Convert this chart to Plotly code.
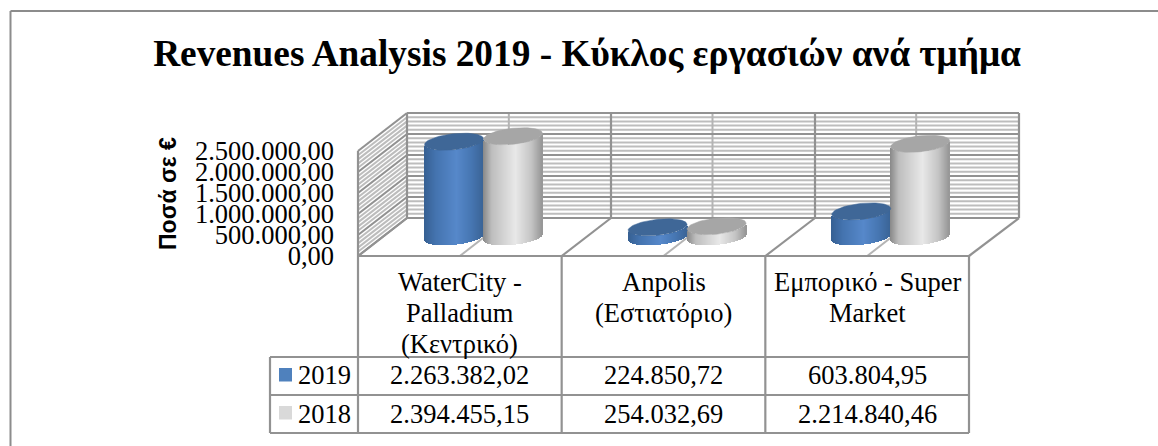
import math
import plotly.graph_objects as go

# ---------- data ----------
categories = ["WaterCity -<br>Palladium<br>(Κεντρικό)", "Anpolis<br>(Εστιατόριο)", "Εμπορικό - Super<br>Market"]
series_names = ["2019", "2018"]
values_2019 = [2263382.02, 224850.72, 603804.95]
values_2018 = [2394455.15, 254032.69, 2214840.46]
labels_2019 = ["2.263.382,02", "224.850,72", "603.804,95"]
labels_2018 = ["2.394.455,15", "254.032,69", "2.214.840,46"]
y_ticks = [0, 500000, 1000000, 1500000, 2000000, 2500000]
y_tick_labels = ["0,00", "500.000,00", "1.000.000,00", "1.500.000,00", "2.000.000,00", "2.500.000,00"]
y_minor = [100000 * i for i in range(26) if i % 5]

# ---------- layout geometry (pixels) ----------
W, H = 1158, 446
PX_PER_VAL = 105 / 2.5e6
VAL_PER_PX = 1 / PX_PER_VAL
BASE = 236.8      # pixel row of value 0 at the depth of the cylinders
FRONT, BACK = 256.0, 218.0
XF0, XF1, XB0, XB1 = 358.0, 969.0, 407.0, 1019.0
CAT_W = (XF1 - XF0) / 3
DX = XB0 - XF0
RX, RY, TILT = 29.5, 8.0, 0.1
FIRST_CENTERS = [454.0, 513.0]
CAT_STEP = 203.6
SERIF = "Liberation Serif"
GRID_DARK, GRID_LIGHT, GRID_MINOR = "#929292", "#B4B4B4", "#BDBDBD"


def Y(px):
    """Pixel row -> main axis value, where value 0 sits at BASE."""
    return (BASE - px) * VAL_PER_PX


def mix(stops, t):
    for (t0, c0), (t1, c1) in zip(stops, stops[1:]):
        if t <= t1:
            f = (t - t0) / (t1 - t0)
            return "rgb(%d,%d,%d)" % tuple(round(a + (b - a) * f) for a, b in zip(c0, c1))
    return "rgb(%d,%d,%d)" % stops[-1][1]


BLUE_STOPS = [(0, (54, 96, 146)), (0.2, (68, 115, 175)), (0.55, (86, 136, 202)), (0.8, (70, 118, 178)), (1, (58, 100, 150))]
GRAY_STOPS = [(0, (136, 136, 136)), (0.15, (190, 190, 190)), (0.55, (232, 232, 232)), (0.82, (196, 196, 196)), (1, (150, 150, 150))]
TOP_COLORS = ["#3F6797", "#A6A6A6"]
KEY_COLORS = ["#4F81BD", "#D9D9D9"]
STOPS = [BLUE_STOPS, GRAY_STOPS]

fig = go.Figure()

# ---------- cylinders: a run of one-pixel bars per value, plus a lid ----------
for s, (name, vals) in enumerate(zip(series_names, [values_2019, values_2018])):
    xs, ys, bases, cols = [], [], [], []
    lid_x, lid_y = [], []
    for c, v in enumerate(vals):
        cx = FIRST_CENTERS[s] + c * CAT_STEP
        n = int(2 * RX)
        for i in range(n):
            dx = -RX + (i + 0.5) * (2 * RX / n)
            lower = -TILT * dx + RY * math.sqrt(max(0, 1 - (dx / RX) ** 2))
            xs.append(cx + dx)
            ys.append(v)
            bases.append(-lower * VAL_PER_PX)
            cols.append(mix(STOPS[s], (i + 0.5) / n))
        for a in range(0, 73):
            th = a / 72 * 2 * math.pi
            dx = RX * math.cos(th)
            lid_x.append(cx + dx)
            lid_y.append(v + (TILT * dx + RY * math.sin(th)) * VAL_PER_PX)
        lid_x.append(None)
        lid_y.append(None)
    fig.add_trace(go.Bar(x=xs, y=ys, base=bases, width=1.15, name=name,
                         marker=dict(color=cols, line=dict(width=0)), showlegend=False))
    fig.add_trace(go.Scatter(x=lid_x, y=lid_y, mode="lines", fill="toself", fillcolor=TOP_COLORS[s],
                             line=dict(color=TOP_COLORS[s], width=0.5), showlegend=False, hoverinfo="skip"))

# ---------- walls, floor and table lines ----------
shapes = []


def seg(x0, y0, x1, y1, color=GRID_DARK, width=2.2):
    shapes.append(dict(type="line", xref="x", yref="y", x0=x0, y0=Y(y0), x1=x1, y1=Y(y1),
                       layer="below", line=dict(color=color, width=width)))


for v in y_minor:
    d = v * PX_PER_VAL
    seg(XF0, FRONT - d, XB0, BACK - d, GRID_MINOR, 2)
    seg(XB0, BACK - d, XB1, BACK - d, GRID_MINOR, 2)
for i in range(3):
    xf_mid = XF0 + (i + 0.5) * CAT_W
    seg(xf_mid, FRONT, xf_mid + DX, BACK, GRID_LIGHT, 2)
    seg(xf_mid + DX, BACK, xf_mid + DX, BACK - 105, GRID_LIGHT, 2)
for v in y_ticks:
    d = v * PX_PER_VAL
    seg(XF0, FRONT - d, XB0, BACK - d)
    seg(XB0, BACK - d, XB1, BACK - d)
for i in range(4):
    xf = XF0 + i * CAT_W
    xb = XB0 + i * (XB1 - XB0) / 3
    seg(xf, FRONT, xb, BACK)
    seg(xb, BACK, xb, BACK - 105)
    seg(xf, FRONT, xf, 357)
seg(XF0, FRONT - 105, XF0, FRONT)
seg(XF0, FRONT, XF1, FRONT)

ROWS = [357.0, 395.0, 433.0]
TBL_L = 270.0
for r in ROWS:
    seg(TBL_L, r, XF1, r)
seg(TBL_L, ROWS[0], TBL_L, ROWS[2])
for i in range(4):
    xf = XF0 + i * CAT_W
    seg(xf, ROWS[0], xf, ROWS[2])

# outer frame: top and left edges only
shapes.append(dict(type="line", xref="paper", yref="paper", x0=10.5 / W, x1=1, y0=1 - 11 / H, y1=1 - 11 / H,
                   layer="below", line=dict(color="#8C8C8C", width=2)))
shapes.append(dict(type="line", xref="paper", yref="paper", x0=10.5 / W, x1=10.5 / W, y0=1 - 11 / H, y1=0,
                   layer="below", line=dict(color="#8C8C8C", width=2)))

# legend keys in the table
for s in range(2):
    top = ROWS[s] + 11
    shapes.append(dict(type="rect", xref="x", yref="y", x0=279, x1=292, y0=Y(top), y1=Y(top + 13.5),
                       layer="above", fillcolor=KEY_COLORS[s], line=dict(width=0)))

# ---------- table text ----------
annotations = []


def text(x, y, s, size=26.5, **kw):
    annotations.append(dict(xref="x", yref="y", x=x, y=Y(y), text=s, showarrow=False,
                            font=dict(family=SERIF, size=size, color="#000000"),
                            xanchor="center", yanchor="middle", **kw))


for c, cat in enumerate(categories):
    cx = XF0 + (c + 0.5) * CAT_W
    for ln, part in enumerate(cat.split("<br>")):
        text(cx, 282 + ln * 31, part)
    text(cx, 375, labels_2019[c])
    text(cx, 414, labels_2018[c])
text(324, 375, series_names[0])
text(324, 414, series_names[1])

annotations.append(dict(xref="paper", yref="paper", x=168 / W, y=1 - 194 / H, text="<b>Ποσά σε €</b>", textangle=-90,
                        showarrow=False, xanchor="center", yanchor="middle",
                        font=dict(family="Liberation Sans", size=23, color="#000000")))

fig.update_layout(
    width=W, height=H, autosize=False,
    margin=dict(l=0, r=0, t=0, b=0),
    paper_bgcolor="white", plot_bgcolor="white",
    barmode="overlay", bargap=0, showlegend=False,
    title=dict(text="<b>Revenues Analysis 2019 - Κύκλος εργασιών ανά τμήμα</b>",
               x=587 / W, xref="paper", xanchor="center", y=1 - 53 / H, yref="paper", yanchor="middle",
               font=dict(family=SERIF, size=37.3, color="#000000")),
    xaxis=dict(range=[0, W], visible=False, fixedrange=True),
    yaxis=dict(range=[Y(H), Y(0)], fixedrange=True, showgrid=False, zeroline=False, showline=False,
               anchor="free", position=334 / W, ticks="", automargin=False,
               tickmode="array", tickvals=[v + Y(FRONT) for v in y_ticks], ticktext=y_tick_labels,
               tickfont=dict(family=SERIF, size=26.5, color="#000000")),
    shapes=shapes, annotations=annotations,
)

fig.write_html("out.html", config={"displayModeBar": False},
               post_script="document.body.style.margin='0';document.body.style.overflow='hidden';")
